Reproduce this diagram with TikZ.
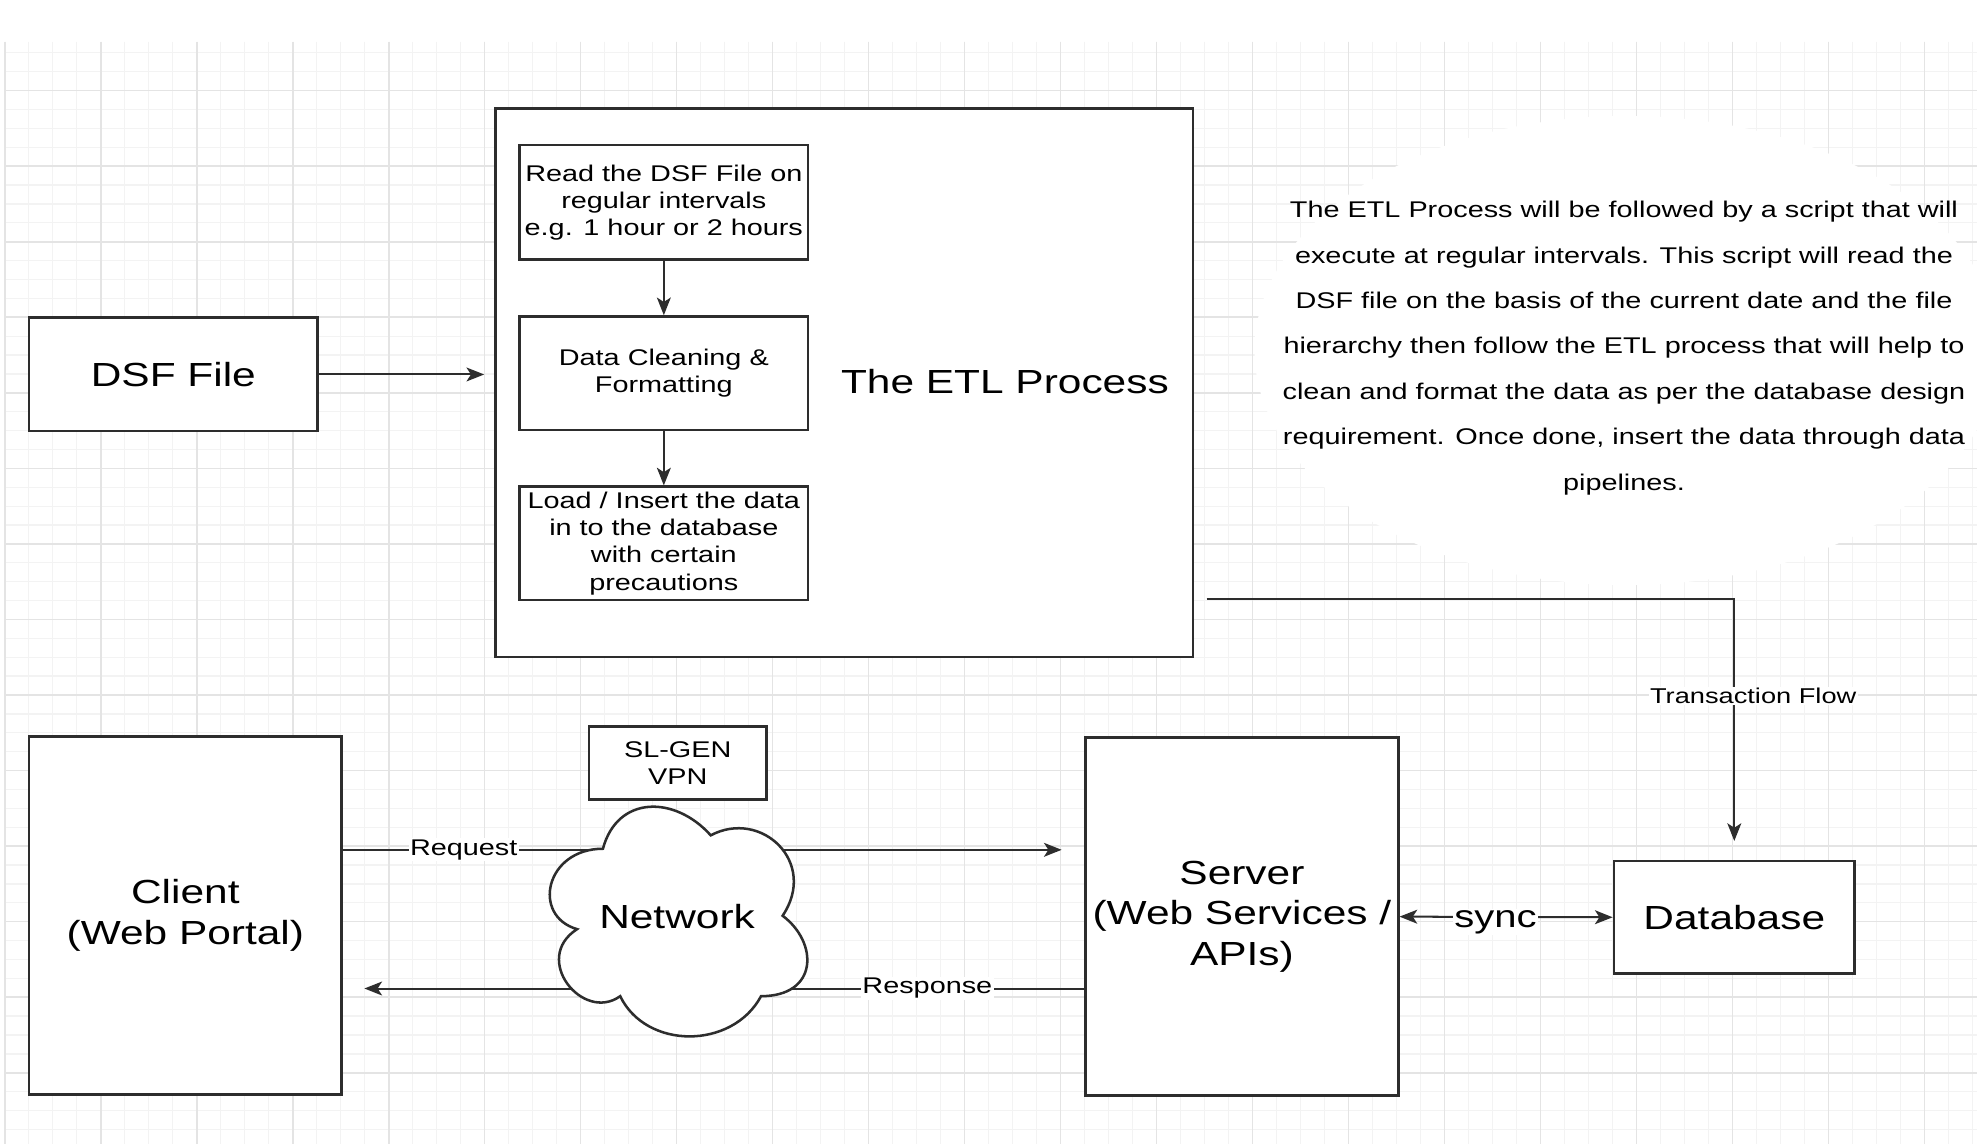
\documentclass[tikz,border=0pt]{standalone}
\usepackage{fontspec}
\setmainfont[FakeStretch=1.27]{Liberation Sans}
\usetikzlibrary{shapes.geometric, arrows.meta, positioning}
\definecolor{InkGray}{RGB}{45, 45, 45}
\definecolor{GridMinor}{RGB}{243, 243, 243}
\definecolor{GridMajor}{RGB}{228, 228, 228}

\begin{document}
\begin{tikzpicture}[x=1pt, y=-1pt,
    >={Stealth[length=14pt, width=11pt, inset=3.5pt]},
    box/.style={rectangle, draw=InkGray, fill=white, line width=2pt, align=center, inner sep=2pt, text=black},
    bigtext/.style={font=\fontsize{26.5}{32}\selectfont},
    smalltext/.style={font=\fontsize{18}{21.6}\selectfont},
    arrow/.style={->, draw=InkGray, line width=1.6pt},
    lbl/.style={fill=white, inner sep=1pt, text=black, font=\fontsize{18}{21.6}\selectfont}
]
\useasboundingbox (0,0) rectangle (1568,907);
\fill[white] (0,0) rectangle (1568,907);

% background grid
\foreach \i in {0,...,82}
    \draw[GridMinor, line width=1pt] ({3.8+19.03*\i},33) -- ({3.8+19.03*\i},907);
\foreach \j in {0,...,57}
    \draw[GridMinor, line width=1pt] (3.8,{41.9+14.98*\j}) -- (1568,{41.9+14.98*\j});
\foreach \i in {0,4,...,80}
    \draw[GridMajor, line width=1.3pt] ({3.8+19.03*\i},33) -- ({3.8+19.03*\i},907);
\foreach \j in {2,6,...,54}
    \draw[GridMajor, line width=1.3pt] (3.8,{41.9+14.98*\j}) -- (1568,{41.9+14.98*\j});

% note
\node[ellipse, fill=white, minimum width=590, minimum height=372] (note) at (1290,278) {};
\node[align=center, text=black, font=\fontsize{18}{36}\selectfont] (notetext) at (1288,276)
    {The ETL Process will be followed by a script that will\\
     execute at regular intervals. This script will read the\\
     DSF file on the basis of the current date and the file\\
     hierarchy then follow the ETL process that will help to\\
     clean and format the data as per the database design\\
     requirement. Once done, insert the data through data\\
     pipelines.};

% ETL part
\node[box, minimum width=553, minimum height=435] (etl) at (669.5,303.5) {};
\node[text=black, bigtext] (etllabel) at (797,303) {The ETL Process};
\node[box, smalltext, minimum width=229, minimum height=91] (read) at (526.5,160.5)
    {Read the DSF File on\\regular intervals\\e.g. 1 hour or 2 hours};
\node[box, smalltext, minimum width=229, minimum height=90] (clean) at (526.5,296)
    {Data Cleaning \&\\Formatting};
\node[box, smalltext, minimum width=229, minimum height=90] (load) at (526.5,431)
    {Load / Insert the data\\in to the database\\with certain\\precautions};
\node[box, bigtext, minimum width=229, minimum height=90] (dsf) at (137.5,297) {DSF File};

\draw[arrow] (read) -- (clean);
\draw[arrow] (clean) -- (load);
\draw[arrow] (dsf.east) -- ([xshift=-8pt]etl.west |- dsf.east);

% request / response side
\node[box, bigtext, minimum width=248, minimum height=284] (client) at (147,726) {Client\\(Web Portal)};
\node[box, bigtext, minimum width=248, minimum height=284] (server) at (985,727) {Server\\(Web Services /\\APIs)};
\node[box, bigtext, minimum width=191, minimum height=89] (db) at (1375.5,727.5) {Database};
\node[box, smalltext, minimum width=141, minimum height=58] (vpn) at (537.5,605) {SL-GEN\\VPN};

\coordinate (reqend) at (842,674);
\coordinate (respend) at (289,784);
\coordinate (txstart) at (957,475);
\draw[arrow] (client.east |- reqend) -- node[lbl, pos=0.168] {Request} (reqend);
\draw[arrow] (server.west |- respend) -- node[lbl, pos=0.218] {Response} (respend);
\draw[arrow, <->] (server.east) -- node[lbl, pos=0.45, yshift=-4pt, font=\fontsize{25}{30}\selectfont] {sync} (db.west);
\draw[arrow] (txstart) -| node[lbl, pos=0.7, xshift=15, font=\fontsize{17}{20}\selectfont] {Transaction Flow} ([yshift=15pt]db.north);

% network cloud
\begin{scope}[shift={(421.2,620)}, x=228pt, y=-212.6pt]
\draw[draw=InkGray, fill=white, line width=2pt]
    (0.25,0.25) .. controls (0.05,0.25) and (0,0.5) .. (0.16,0.55)
    .. controls (0,0.66) and (0.18,0.9) .. (0.31,0.8)
    .. controls (0.4,1) and (0.7,1) .. (0.8,0.8)
    .. controls (1,0.8) and (1,0.6) .. (0.875,0.5)
    .. controls (1,0.3) and (0.8,0.1) .. (0.625,0.2)
    .. controls (0.5,0.05) and (0.3,0.05) .. (0.25,0.25) -- cycle;
\end{scope}
\node[text=black, bigtext] (network) at (537,727) {Network};
\end{tikzpicture}
\end{document}
